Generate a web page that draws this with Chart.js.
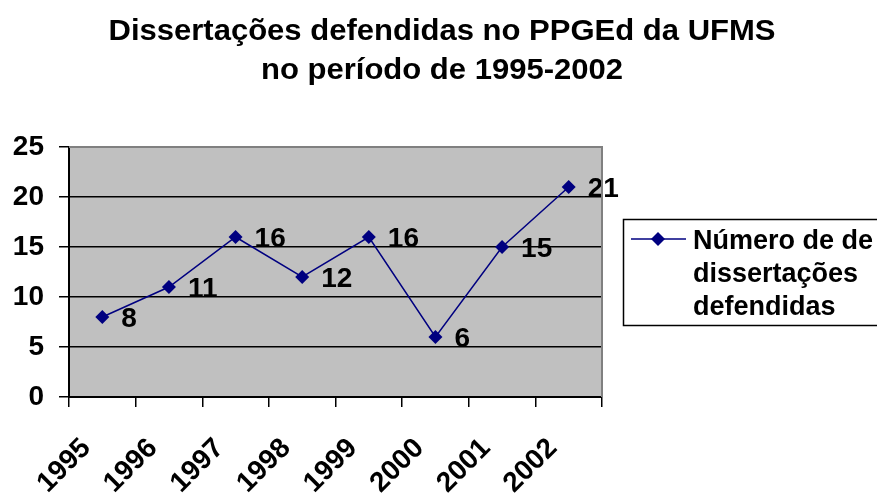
<!DOCTYPE html>
<html>
<head>
<meta charset="utf-8">
<script src="https://cdn.jsdelivr.net/npm/chart.js@4.4.1/dist/chart.umd.min.js"></script>
<style>
html,body{margin:0;padding:0;background:#fff;}
#c{display:block;}
</style>
</head>
<body>
<canvas id="c" width="877" height="494"></canvas>
<script>
// ---- data ----
const years = ["1995","1996","1997","1998","1999","2000","2001","2002"];
const dissertacoes = [8, 11, 16, 12, 16, 6, 15, 21];
const yTicks = [0, 5, 10, 15, 20, 25];
const titleLines = ["Dissertações defendidas no PPGEd da UFMS", "no período de 1995-2002"];
const legendLines = ["Número de de", "dissertações", "defendidas"];

const NAVY = '#000080';
const FONT = '"Liberation Sans", Arial, sans-serif';

const plotBg = {
  id: 'plotBg',
  beforeDraw(chart) {
    const {ctx, chartArea: a} = chart;
    ctx.save();
    ctx.fillStyle = '#c0c0c0';
    ctx.fillRect(a.left, a.top, a.right - a.left, a.bottom - a.top);
    ctx.restore();
  },
  afterDraw(chart) {
    const {ctx, chartArea: a} = chart;
    ctx.save();
    ctx.strokeStyle = '#808080';
    ctx.lineWidth = 2;
    ctx.beginPath();
    ctx.moveTo(a.left, a.top);
    ctx.lineTo(a.right, a.top);
    ctx.lineTo(a.right, a.bottom);
    ctx.stroke();
    ctx.restore();
  }
};

const titlePlugin = {
  id: 'titleDraw',
  afterDraw(chart) {
    const ctx = chart.ctx;
    ctx.save();
    ctx.font = 'bold 30px ' + FONT;
    ctx.fillStyle = '#000';
    ctx.textAlign = 'center';
    ctx.textBaseline = 'alphabetic';
    const w = ctx.measureText(titleLines[0]).width;
    const sx = 667 / w;
    const cx = 442;
    const baselines = [40, 79];
    titleLines.forEach((t, i) => {
      ctx.save();
      ctx.translate(cx, baselines[i]);
      ctx.scale(sx, 1);
      ctx.fillText(t, 0, 0);
      ctx.restore();
    });
    ctx.restore();
  }
};

const dataLabels = {
  id: 'dataLabels',
  afterDatasetsDraw(chart) {
    const ctx = chart.ctx;
    const meta = chart.getDatasetMeta(0);
    ctx.save();
    ctx.font = 'bold 28px ' + FONT;
    ctx.fillStyle = '#000';
    ctx.textAlign = 'left';
    ctx.textBaseline = 'middle';
    meta.data.forEach((pt, i) => {
      ctx.fillText(String(chart.data.datasets[0].data[i]), pt.x + 19, pt.y + 2);
    });
    ctx.restore();
  }
};

const legendPlugin = {
  id: 'legendDraw',
  afterDraw(chart) {
    const ctx = chart.ctx;
    ctx.save();
    ctx.fillStyle = '#fff';
    ctx.fillRect(623, 219, 270, 106);
    ctx.strokeStyle = '#000';
    ctx.lineWidth = 1.5;
    ctx.strokeRect(623.5, 219.5, 270, 106);
    ctx.strokeStyle = NAVY;
    ctx.lineWidth = 1.5;
    ctx.beginPath();
    ctx.moveTo(631, 239);
    ctx.lineTo(686, 239);
    ctx.stroke();
    ctx.fillStyle = NAVY;
    ctx.beginPath();
    const cx = 658, cy = 239, r = 7;
    ctx.moveTo(cx, cy - r); ctx.lineTo(cx + r, cy); ctx.lineTo(cx, cy + r); ctx.lineTo(cx - r, cy);
    ctx.closePath();
    ctx.fill();
    ctx.fillStyle = '#000';
    ctx.font = 'bold 27px ' + FONT;
    ctx.textAlign = 'left';
    ctx.textBaseline = 'alphabetic';
    const bl = [249, 282, 315];
    legendLines.forEach((t, i) => ctx.fillText(t, 693, bl[i]));
    ctx.restore();
  }
};

new Chart(document.getElementById('c'), {
  type: 'line',
  data: {
    labels: years,
    datasets: [{
      label: legendLines.join(' '),
      data: dissertacoes,
      borderColor: NAVY,
      backgroundColor: NAVY,
      borderWidth: 1.5,
      pointStyle: 'rectRot',
      pointRadius: 7,
      pointHoverRadius: 7,
      pointBackgroundColor: NAVY,
      pointBorderColor: NAVY,
      pointBorderWidth: 0,
      tension: 0,
      fill: false
    }]
  },
  options: {
    responsive: false,
    devicePixelRatio: 1,
    animation: false,
    layout: { padding: { top: 147, right: 275, left: 0, bottom: 0 } },
    plugins: {
      legend: { display: false },
      title: { display: false },
      tooltip: { enabled: false }
    },
    scales: {
      x: {
        type: 'category',
        offset: true,
        grid: {
          offset: true,
          drawOnChartArea: false,
          drawTicks: true,
          tickLength: 10,
          color: '#000',
          lineWidth: 1.5
        },
        border: { display: true, color: '#000', width: 2 },
        ticks: {
          minRotation: 45,
          maxRotation: 45,
          autoSkip: false,
          padding: 25,
          labelOffset: -16,
          color: '#000',
          font: { family: FONT, size: 28, weight: 'bold' }
        },
        afterFit(scale) {
          scale.height = 97;
          scale.paddingLeft = 0;
          scale.paddingRight = 0;
        }
      },
      y: {
        min: 0,
        max: 25,
        afterBuildTicks(scale) {
          scale.ticks = yTicks.map(v => ({ value: v }));
        },
        grid: {
          color: (c) => (c.tick && c.tick.value === 25 ? '#808080' : '#000'),
          lineWidth: 1.5,
          drawTicks: true,
          tickLength: 10,
          tickColor: '#000'
        },
        border: { display: true, color: '#000', width: 2 },
        ticks: {
          padding: 15,
          color: '#000',
          font: { family: FONT, size: 28, weight: 'bold' }
        },
        afterFit(scale) {
          scale.width = 69;
          scale.paddingTop = 0;
          scale.paddingBottom = 0;
        }
      }
    }
  },
  plugins: [plotBg, dataLabels, titlePlugin, legendPlugin]
});
</script>
</body>
</html>
